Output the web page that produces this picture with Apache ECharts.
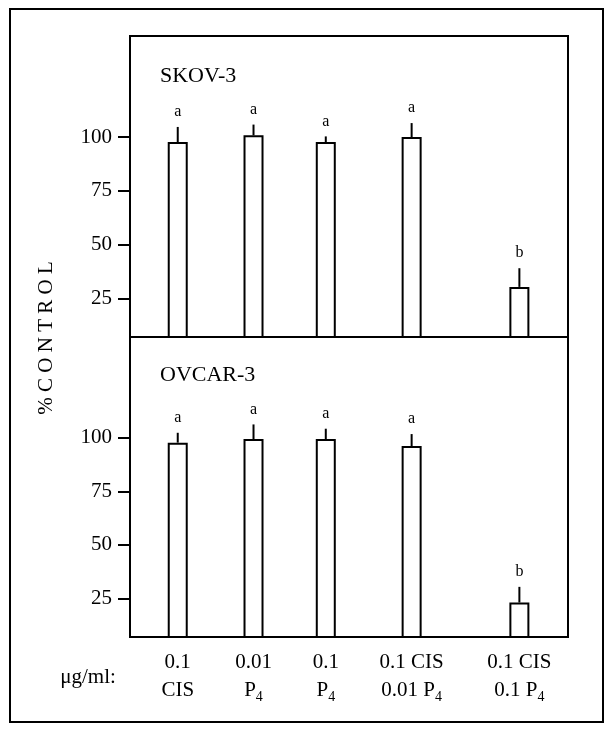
<!DOCTYPE html>
<html>
<head>
<meta charset="utf-8">
<script src="https://cdn.jsdelivr.net/npm/echarts@6/dist/echarts.min.js"></script>
<style>
  html, body { margin: 0; background: #fff; }
  #chart { width: 612px; height: 731px; }
</style>
</head>
<body>
<div id="chart"></div>
<script>
// treatment labels (two lines, "_4" = subscript)
const doseLine1 = ['0.1', '0.01', '0.1', '0.1 CIS', '0.1 CIS']
const doseLine2 = ['CIS', 'P_4', 'P_4', '0.01 P_4', '0.1 P_4']

// % control, upper error, significance letters
const skovMean = [97.7, 100.8, 97.7, 100.0, 30.3]
const skovErr = [7.0, 5.0, 2.6, 6.5, 8.7]
const skovSig = ['a', 'a', 'a', 'a', 'b']

const ovcarMean = [97.7, 99.4, 99.4, 96.1, 23.1]
const ovcarErr = [4.6, 6.8, 4.8, 5.6, 7.3]
const ovcarSig = ['a', 'a', 'a', 'a', 'b']

const cellLines = ['SKOV-3', 'OVCAR-3']
const yTicks = [25, 50, 75, 100]

// where each treatment sits along the (hidden) 0-100 x scale
const slotX = [10.9, 28.2, 44.7, 64.3, 88.9]

const font = '"Liberation Serif", "Times New Roman", serif'
const chart = echarts.init(document.getElementById('chart'))

const panels = [
    { mean: skovMean, err: skovErr, sig: skovSig },
    { mean: ovcarMean, err: ovcarErr, sig: ovcarSig },
]

function richLabel(s) {
    return '{t|' + s.replace(/_(\w)/, '}{s|$1') + '}'
}

const grids = [
    { left: 130, right: 44, top: 36, height: 301 },
    { left: 130, right: 44, top: 337, height: 300 },
].map(g => Object.assign(g, { show: true, borderColor: '#000', borderWidth: 2, backgroundColor: 'transparent' }))

const xAxes = grids.map((g, i) => ({
    type: 'value',
    gridIndex: i,
    min: 0,
    max: 100,
    axisLine: { show: false },
    axisTick: { show: false },
    splitLine: { show: false },
    axisLabel: i === 1 ? {
        customValues: slotX,
        margin: 11,
        formatter: v => {
            const k = slotX.indexOf(v)
            return richLabel(doseLine1[k]) + '\n' + richLabel(doseLine2[k])
        },
        rich: {
            t: { fontSize: 21, fontFamily: font, color: '#000', lineHeight: 28 },
            s: { fontSize: 14, fontFamily: font, color: '#000', lineHeight: 14, verticalAlign: 'bottom' },
        },
    } : { show: false },
}))

const yAxes = grids.map((g, i) => ({
    type: 'value',
    gridIndex: i,
    min: 7,
    max: 147,
    axisLine: { show: true, lineStyle: { color: '#000', width: 2 } },
    axisTick: { show: true, length: 12, customValues: yTicks, lineStyle: { color: '#000', width: 2 } },
    axisLabel: { customValues: yTicks, margin: 18, fontSize: 21, fontFamily: font, color: '#000' },
    splitLine: { show: false },
}))

const series = []
panels.forEach((p, i) => {
    series.push({
        type: 'bar',
        xAxisIndex: i,
        yAxisIndex: i,
        data: p.mean.map((v, k) => [slotX[k], v]),
        barWidth: 20,
        clip: true,
        itemStyle: { color: '#fff', borderColor: '#000', borderWidth: 2 },
        emphasis: { disabled: true },
    })
    series.push({
        type: 'custom',
        xAxisIndex: i,
        yAxisIndex: i,
        z: 5,
        data: p.mean.map((v, k) => [slotX[k], v, p.err[k]]),
        renderItem: (params, api) => {
            const x = api.value(0), v = api.value(1), e = api.value(2)
            const p0 = api.coord([x, v])
            const p1 = api.coord([x, v + e])
            return {
                type: 'group',
                children: [
                    {
                        type: 'line',
                        shape: { x1: p0[0], y1: p0[1], x2: p1[0], y2: p1[1] },
                        style: { stroke: '#000', lineWidth: 2 },
                    },
                    {
                        type: 'text',
                        x: p1[0],
                        y: p1[1] - 7,
                        style: {
                            text: p.sig[params.dataIndex],
                            align: 'center',
                            verticalAlign: 'bottom',
                            font: '16px ' + font,
                            fill: '#000',
                        },
                    },
                ],
            }
        },
    })
})

chart.setOption({
    backgroundColor: '#fff',
    animation: false,
    title: cellLines.map((name, i) => ({
        text: name,
        left: 160,
        top: i === 0 ? 65 : 364,
        padding: 0,
        textStyle: { fontSize: 22, fontWeight: 'normal', fontFamily: font, color: '#000' },
    })),
    grid: grids,
    xAxis: xAxes,
    yAxis: yAxes,
    series: series,
    graphic: [
        {
            type: 'rect',
            shape: { x: 10, y: 9, width: 593, height: 713 },
            style: { fill: 'none', stroke: '#000', lineWidth: 2 },
            silent: true,
        },
        {
            type: 'text',
            x: 46,
            y: 338,
            rotation: Math.PI / 2,
            style: { text: '% C O N T R O L', align: 'center', verticalAlign: 'middle', font: '21px ' + font, fill: '#000' },
        },
        {
            type: 'text',
            x: 88,
            y: 677,
            style: { text: 'μg/ml:', align: 'center', verticalAlign: 'middle', font: '21px ' + font, fill: '#000' },
        },
    ],
})
</script>
</body>
</html>
